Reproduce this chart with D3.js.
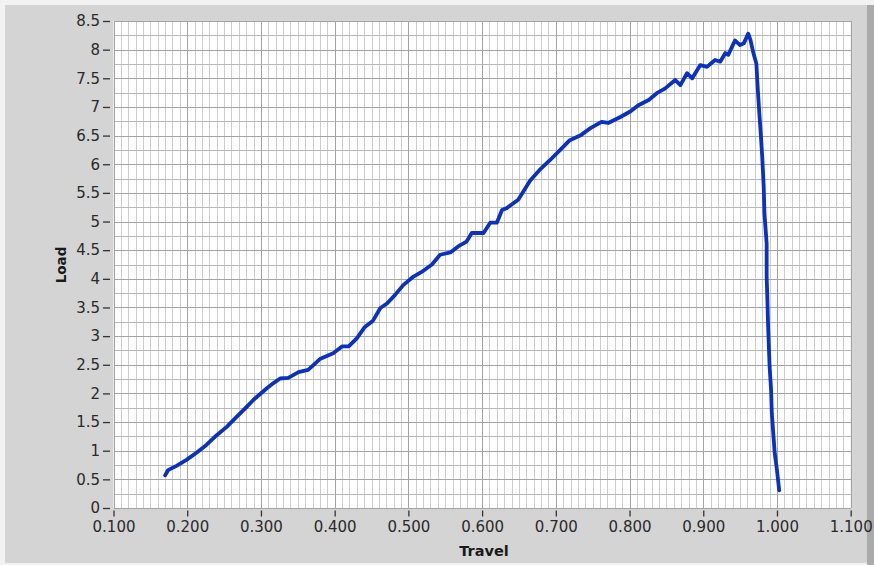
<!DOCTYPE html>
<html>
<head>
<meta charset="utf-8">
<script src="https://cdn.jsdelivr.net/npm/d3@7"></script>
<style>
  html, body { margin: 0; padding: 0; background: #ececec; }
  svg { display: block; }
</style>
</head>
<body>
<svg id="chart" width="874" height="565"></svg>
<script>
// ---- data ----
const travel = [0.170,0.174,0.186,0.199,0.213,0.226,0.240,0.254,0.267,0.281,0.290,0.299,0.308,0.317,0.326,0.337,0.351,0.364,0.380,0.398,0.410,0.419,0.430,0.441,0.452,0.462,0.471,0.482,0.493,0.507,0.518,0.532,0.543,0.557,0.568,0.579,0.586,0.602,0.611,0.620,0.627,0.633,0.649,0.665,0.678,0.692,0.706,0.719,0.733,0.747,0.762,0.771,0.787,0.801,0.812,0.826,0.837,0.848,0.862,0.869,0.878,0.885,0.896,0.905,0.916,0.923,0.930,0.934,0.943,0.950,0.955,0.961,0.964,0.968,0.972,0.974,0.976,0.978,0.980,0.982,0.983,0.986,0.986,0.987,0.988,0.990,0.992,0.993,0.995,0.997,1.000,1.003];
const load = [0.57,0.66,0.74,0.84,0.97,1.10,1.27,1.42,1.59,1.77,1.89,1.99,2.09,2.18,2.26,2.27,2.37,2.41,2.60,2.70,2.82,2.82,2.96,3.16,3.27,3.49,3.57,3.72,3.89,4.04,4.12,4.25,4.42,4.46,4.57,4.65,4.80,4.80,4.98,4.98,5.20,5.23,5.38,5.71,5.90,6.07,6.25,6.42,6.50,6.63,6.74,6.72,6.82,6.92,7.03,7.12,7.24,7.32,7.47,7.38,7.59,7.50,7.73,7.70,7.82,7.79,7.94,7.91,8.16,8.08,8.11,8.28,8.17,7.94,7.76,7.30,6.90,6.54,6.13,5.61,5.14,4.62,4.04,3.63,3.16,2.47,2.06,1.65,1.30,0.95,0.66,0.31];
const xTickValues = [0.1,0.2,0.3,0.4,0.5,0.6,0.7,0.8,0.9,1.0,1.1];
const yTickValues = [0,0.5,1,1.5,2,2.5,3,3.5,4,4.5,5,5.5,6,6.5,7,7.5,8,8.5];
const xTitle = "Travel";
const yTitle = "Load";

// ---- layout ----
const svg = d3.select("#chart");
const W = 874, H = 565;
const plot = {left: 113.5, right: 850.7, top: 21, bottom: 508};

// frame
svg.append("rect").attr("x", 0).attr("y", 0).attr("width", W).attr("height", H).attr("fill", "#f2f2f2");
svg.append("rect").attr("x", 5).attr("y", 5).attr("width", 862).attr("height", 558).attr("fill", "#d4d4d4");
svg.append("rect").attr("x", 867).attr("y", 5).attr("width", 7).attr("height", 560).attr("fill", "#ababab");

const x = d3.scaleLinear().domain([0.1, 1.1]).range([plot.left, plot.right]);
const y = d3.scaleLinear().domain([0, 8.5]).range([plot.bottom, plot.top]);

// plot area
svg.append("rect")
  .attr("x", plot.left).attr("y", plot.top)
  .attr("width", plot.right - plot.left).attr("height", plot.bottom - plot.top)
  .attr("fill", "#ffffff");

// grid
const minorX = d3.range(0, 101).map(i => 0.1 + i * 0.01);
const minorY = d3.range(0, 35).map(i => i * 0.25);
const grid = svg.append("g").attr("shape-rendering", "crispEdges");
grid.selectAll("line.mx").data(minorX).join("line")
  .attr("x1", d => Math.round(x(d)) + 0.5).attr("x2", d => Math.round(x(d)) + 0.5)
  .attr("y1", plot.top).attr("y2", plot.bottom)
  .attr("stroke", "#cdcdcd").attr("stroke-width", 1);
grid.selectAll("line.my").data(minorY).join("line")
  .attr("y1", d => Math.round(y(d)) + 0.5).attr("y2", d => Math.round(y(d)) + 0.5)
  .attr("x1", plot.left).attr("x2", plot.right)
  .attr("stroke", "#b8b8b8").attr("stroke-width", 1);
grid.selectAll("line.Mx").data(xTickValues).join("line")
  .attr("x1", d => Math.round(x(d)) + 0.5).attr("x2", d => Math.round(x(d)) + 0.5)
  .attr("y1", plot.top).attr("y2", plot.bottom)
  .attr("stroke", "#a4a4a4").attr("stroke-width", 1);
grid.selectAll("line.My").data(yTickValues).join("line")
  .attr("y1", d => Math.round(y(d)) + 0.5).attr("y2", d => Math.round(y(d)) + 0.5)
  .attr("x1", plot.left).attr("x2", plot.right)
  .attr("stroke", "#a4a4a4").attr("stroke-width", 1);

// axes
const font = "'DejaVu Sans', Verdana, sans-serif";
const xAxis = d3.axisBottom(x).tickValues(xTickValues).tickFormat(d3.format(".3f"))
  .tickSizeInner(6).tickSizeOuter(0).tickPadding(5);
const gx = svg.append("g").attr("transform", `translate(0,${plot.bottom + 2.5})`).call(xAxis);
gx.select(".domain").remove();
gx.selectAll("line").attr("stroke", "#333").attr("stroke-width", 1.3);
gx.selectAll("text").attr("fill", "#2a2a2a").style("font-family", font).style("font-size", "15px");

const yAxis = d3.axisLeft(y).tickValues(yTickValues).tickFormat(d3.format("~g"))
  .tickSizeInner(7).tickSizeOuter(0).tickPadding(3);
const gy = svg.append("g").attr("transform", `translate(${plot.left - 3.5},0)`).call(yAxis);
gy.select(".domain").remove();
gy.selectAll("line").attr("stroke", "#333").attr("stroke-width", 1.3);
gy.selectAll("text").attr("fill", "#2a2a2a").style("font-family", font).style("font-size", "15px");

// titles
svg.append("text").attr("x", 484).attr("y", 556)
  .attr("text-anchor", "middle").attr("fill", "#1a1a1a")
  .style("font-family", font).style("font-size", "14.5px").style("font-weight", "bold")
  .text(xTitle);
svg.append("text").attr("transform", "translate(66,265) rotate(-90)")
  .attr("text-anchor", "middle").attr("fill", "#1a1a1a")
  .style("font-family", font).style("font-size", "13.5px").style("font-weight", "bold")
  .text(yTitle);

// curve
const pts = travel.map((t, i) => [t, load[i]]);
const line = d3.line().x(d => x(d[0])).y(d => y(d[1]));
svg.append("path").datum(pts)
  .attr("d", line)
  .attr("fill", "none")
  .attr("stroke", "#0a30c4")
  .attr("stroke-width", 3.8)
  .attr("stroke-linejoin", "round")
  .attr("stroke-linecap", "round");
</script>
</body>
</html>
